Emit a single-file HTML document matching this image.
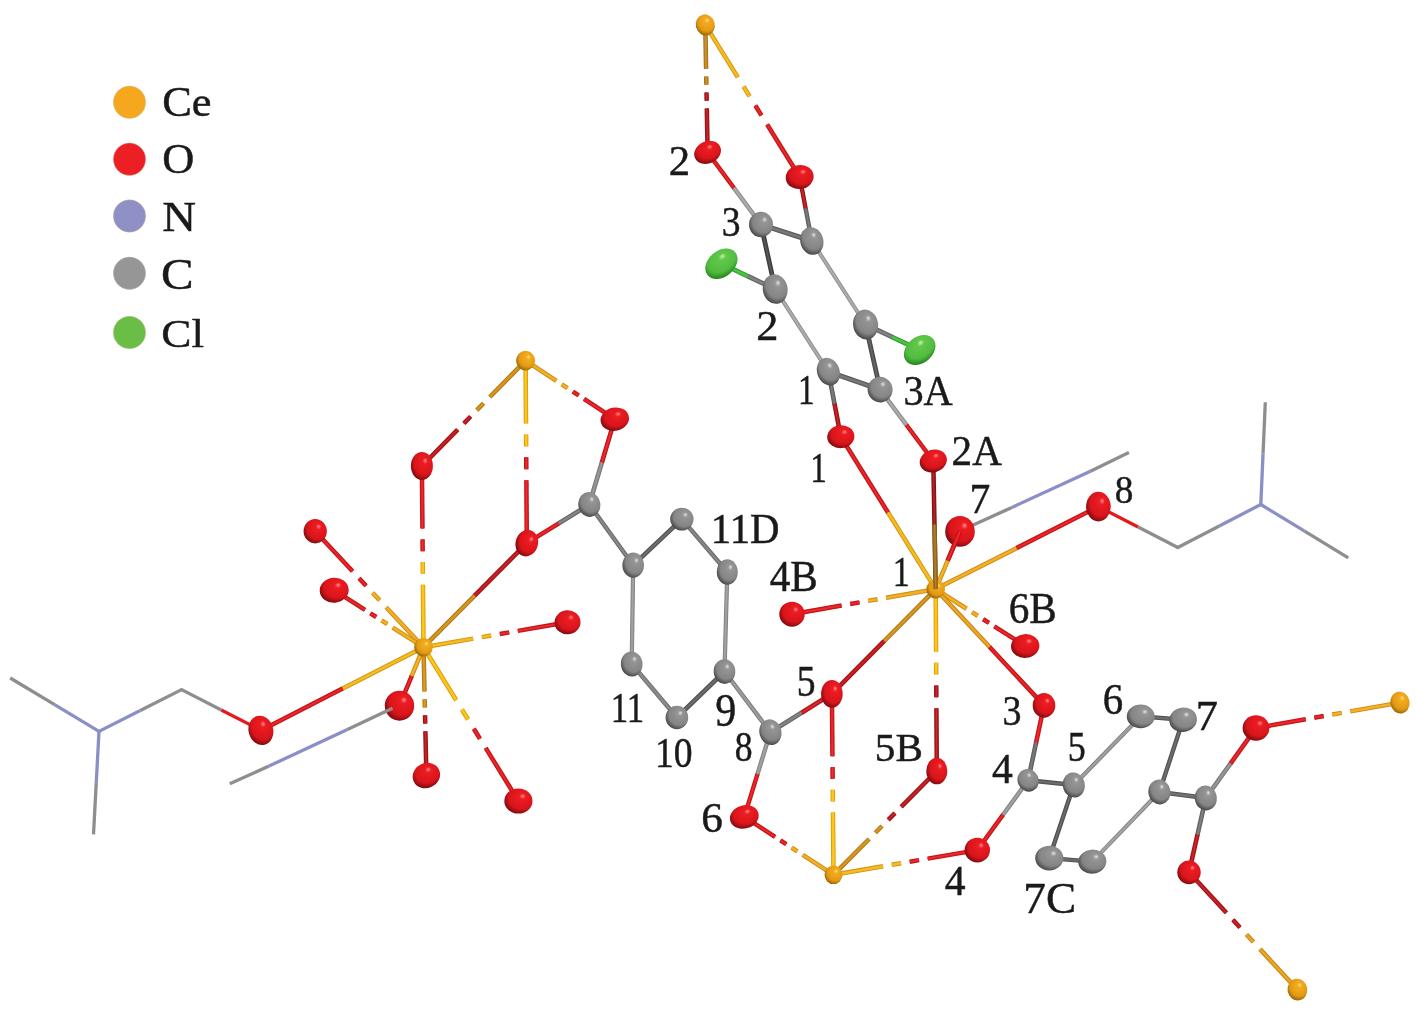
<!DOCTYPE html><html><head><meta charset="utf-8"><style>html,body{margin:0;padding:0;background:#fff;overflow:hidden}svg{display:block}text{font-family:"Liberation Serif",serif;fill:#1a1a1a}g.lb{opacity:0.999}</style></head><body>
<svg width="1417" height="1011" viewBox="0 0 1417 1011">
<defs>
<radialGradient id="gCe" cx="0.58" cy="0.40" r="0.62" fx="0.66" fy="0.30"><stop offset="0" stop-color="#FFE29A"/><stop offset="0.18" stop-color="#F4AC1E"/><stop offset="0.72" stop-color="#E29A14"/><stop offset="1" stop-color="#9A6408"/></radialGradient>
<radialGradient id="gO" cx="0.58" cy="0.40" r="0.62" fx="0.66" fy="0.30"><stop offset="0" stop-color="#FF8A8A"/><stop offset="0.18" stop-color="#EC1C22"/><stop offset="0.72" stop-color="#D8151B"/><stop offset="1" stop-color="#7E0A0E"/></radialGradient>
<radialGradient id="gC" cx="0.58" cy="0.40" r="0.62" fx="0.66" fy="0.30"><stop offset="0" stop-color="#E2E2E2"/><stop offset="0.18" stop-color="#959595"/><stop offset="0.72" stop-color="#858585"/><stop offset="1" stop-color="#474747"/></radialGradient>
<radialGradient id="gCl" cx="0.58" cy="0.40" r="0.62" fx="0.66" fy="0.30"><stop offset="0" stop-color="#C8F4A8"/><stop offset="0.18" stop-color="#62C84C"/><stop offset="0.72" stop-color="#50BC3E"/><stop offset="1" stop-color="#2A8220"/></radialGradient>
</defs>
<rect width="1417" height="1011" fill="#fff"/>
<line x1="1098.4" y1="506.6" x2="1138.1" y2="527.05" stroke="#E5191D" stroke-width="3.3"/>
<line x1="1138.1" y1="527.05" x2="1177.8" y2="547.5" stroke="#8E8E8E" stroke-width="3.3"/>
<line x1="1177.8" y1="547.5" x2="1219.3" y2="526" stroke="#8E8E8E" stroke-width="3.3"/>
<line x1="1219.3" y1="526" x2="1260.8" y2="504.5" stroke="#8A8FC8" stroke-width="3.3"/>
<line x1="1260.8" y1="504.5" x2="1263.05" y2="453.35" stroke="#8A8FC8" stroke-width="3.3"/>
<line x1="1263.05" y1="453.35" x2="1265.3" y2="402.2" stroke="#8E8E8E" stroke-width="3.3"/>
<line x1="1260.8" y1="504.5" x2="1304.55" y2="531.15" stroke="#8A8FC8" stroke-width="3.3"/>
<line x1="1304.55" y1="531.15" x2="1348.3" y2="557.8" stroke="#8E8E8E" stroke-width="3.3"/>
<line x1="960" y1="531" x2="1011.9" y2="507.4" stroke="#8E8E8E" stroke-width="3.3"/>
<line x1="1011.9" y1="507.4" x2="1090.4" y2="471.3" stroke="#8A8FC8" stroke-width="3.3"/>
<line x1="1090.4" y1="471.3" x2="1128.9" y2="452.6" stroke="#8E8E8E" stroke-width="3.3"/>
<line x1="261" y1="730.3" x2="221.3" y2="709.95" stroke="#E5191D" stroke-width="3.3"/>
<line x1="221.3" y1="709.95" x2="181.6" y2="689.6" stroke="#8E8E8E" stroke-width="3.3"/>
<line x1="181.6" y1="689.6" x2="140.3" y2="710.5" stroke="#8E8E8E" stroke-width="3.3"/>
<line x1="140.3" y1="710.5" x2="99" y2="731.4" stroke="#8A8FC8" stroke-width="3.3"/>
<line x1="99" y1="731.4" x2="54.6" y2="704.7" stroke="#8A8FC8" stroke-width="3.3"/>
<line x1="54.6" y1="704.7" x2="10.2" y2="678" stroke="#8E8E8E" stroke-width="3.3"/>
<line x1="99" y1="731.4" x2="96.25" y2="782.85" stroke="#8A8FC8" stroke-width="3.3"/>
<line x1="96.25" y1="782.85" x2="93.5" y2="834.3" stroke="#8E8E8E" stroke-width="3.3"/>
<line x1="347.4" y1="729.5" x2="268.5" y2="766.3" stroke="#8A8FC8" stroke-width="3.3"/>
<line x1="268.5" y1="766.3" x2="229.7" y2="783.8" stroke="#8E8E8E" stroke-width="3.3"/>
<circle cx="1177.8" cy="547.5" r="1.65" fill="#8E8E8E"/>
<circle cx="1260.8" cy="504.5" r="1.65" fill="#8A8FC8"/>
<circle cx="181.6" cy="689.6" r="1.65" fill="#8E8E8E"/>
<circle cx="99" cy="731.4" r="1.65" fill="#8A8FC8"/>
<line x1="705.3" y1="24.9" x2="706.09" y2="68.89" stroke="#A06E16" stroke-width="4.5"/>
<line x1="705.3" y1="24.9" x2="706.09" y2="68.89" stroke="#C4871C" stroke-width="2.79"/>
<line x1="705.3" y1="24.9" x2="706.09" y2="68.89" stroke="#CB9537" stroke-width="0.99"/>
<line x1="706.23" y1="76.54" x2="706.38" y2="84.82" stroke="#A06E16" stroke-width="4.5"/>
<line x1="706.23" y1="76.54" x2="706.38" y2="84.82" stroke="#C4871C" stroke-width="2.79"/>
<line x1="706.23" y1="76.54" x2="706.38" y2="84.82" stroke="#CB9537" stroke-width="0.99"/>
<line x1="706.52" y1="92.47" x2="706.67" y2="100.76" stroke="#961115" stroke-width="4.5"/>
<line x1="706.52" y1="92.47" x2="706.67" y2="100.76" stroke="#B8151A" stroke-width="2.79"/>
<line x1="706.52" y1="92.47" x2="706.67" y2="100.76" stroke="#C03135" stroke-width="0.99"/>
<line x1="706.81" y1="108.41" x2="707.6" y2="152.4" stroke="#961115" stroke-width="4.5"/>
<line x1="706.81" y1="108.41" x2="707.6" y2="152.4" stroke="#B8151A" stroke-width="2.79"/>
<line x1="706.81" y1="108.41" x2="707.6" y2="152.4" stroke="#C03135" stroke-width="0.99"/>
<line x1="705.3" y1="24.9" x2="737.87" y2="77.37" stroke="#C99512" stroke-width="4.5"/>
<line x1="705.3" y1="24.9" x2="737.87" y2="77.37" stroke="#F6B616" stroke-width="2.79"/>
<line x1="705.3" y1="24.9" x2="737.87" y2="77.37" stroke="#F7BE31" stroke-width="0.99"/>
<line x1="743.53" y1="86.5" x2="749.67" y2="96.39" stroke="#C99512" stroke-width="4.5"/>
<line x1="743.53" y1="86.5" x2="749.67" y2="96.39" stroke="#F6B616" stroke-width="2.79"/>
<line x1="743.53" y1="86.5" x2="749.67" y2="96.39" stroke="#F7BE31" stroke-width="0.99"/>
<line x1="755.33" y1="105.51" x2="761.47" y2="115.4" stroke="#BB1417" stroke-width="4.5"/>
<line x1="755.33" y1="105.51" x2="761.47" y2="115.4" stroke="#E5191D" stroke-width="2.79"/>
<line x1="755.33" y1="105.51" x2="761.47" y2="115.4" stroke="#E83438" stroke-width="0.99"/>
<line x1="767.13" y1="124.53" x2="799.7" y2="177" stroke="#BB1417" stroke-width="4.5"/>
<line x1="767.13" y1="124.53" x2="799.7" y2="177" stroke="#E5191D" stroke-width="2.79"/>
<line x1="767.13" y1="124.53" x2="799.7" y2="177" stroke="#E83438" stroke-width="0.99"/>
<line x1="707.6" y1="152.4" x2="734.54" y2="188.77" stroke="#BB1417" stroke-width="4.4"/>
<line x1="707.6" y1="152.4" x2="734.54" y2="188.77" stroke="#E5191D" stroke-width="2.73"/>
<line x1="707.6" y1="152.4" x2="734.54" y2="188.77" stroke="#E83438" stroke-width="0.97"/>
<line x1="734.06" y1="188.13" x2="761" y2="224.5" stroke="#878787" stroke-width="4.4"/>
<line x1="734.06" y1="188.13" x2="761" y2="224.5" stroke="#A5A5A5" stroke-width="2.73"/>
<line x1="734.06" y1="188.13" x2="761" y2="224.5" stroke="#AFAFAF" stroke-width="0.97"/>
<line x1="799.7" y1="177" x2="805.82" y2="209.39" stroke="#961115" stroke-width="4.4"/>
<line x1="799.7" y1="177" x2="805.82" y2="209.39" stroke="#B8151A" stroke-width="2.73"/>
<line x1="799.7" y1="177" x2="805.82" y2="209.39" stroke="#C03135" stroke-width="0.97"/>
<line x1="805.68" y1="208.61" x2="811.8" y2="241" stroke="#5A5A5A" stroke-width="4.4"/>
<line x1="805.68" y1="208.61" x2="811.8" y2="241" stroke="#6E6E6E" stroke-width="2.73"/>
<line x1="805.68" y1="208.61" x2="811.8" y2="241" stroke="#7F7F7F" stroke-width="0.97"/>
<line x1="761" y1="224.5" x2="811.8" y2="241" stroke="#5A5A5A" stroke-width="5"/>
<line x1="761" y1="224.5" x2="811.8" y2="241" stroke="#6E6E6E" stroke-width="3.1"/>
<line x1="761" y1="224.5" x2="811.8" y2="241" stroke="#7F7F7F" stroke-width="1.1"/>
<line x1="761" y1="224.5" x2="775.2" y2="289.1" stroke="#393B3B" stroke-width="4.8"/>
<line x1="761" y1="224.5" x2="775.2" y2="289.1" stroke="#464848" stroke-width="2.98"/>
<line x1="761" y1="224.5" x2="775.2" y2="289.1" stroke="#5C5D5D" stroke-width="1.06"/>
<line x1="721.4" y1="263.7" x2="748.66" y2="276.57" stroke="#339B2F" stroke-width="4.8"/>
<line x1="721.4" y1="263.7" x2="748.66" y2="276.57" stroke="#3FBE3A" stroke-width="2.98"/>
<line x1="721.4" y1="263.7" x2="748.66" y2="276.57" stroke="#56C551" stroke-width="1.06"/>
<line x1="747.94" y1="276.23" x2="775.2" y2="289.1" stroke="#646464" stroke-width="4.8"/>
<line x1="747.94" y1="276.23" x2="775.2" y2="289.1" stroke="#7A7A7A" stroke-width="2.98"/>
<line x1="747.94" y1="276.23" x2="775.2" y2="289.1" stroke="#898989" stroke-width="1.06"/>
<line x1="811.8" y1="241" x2="865.6" y2="324.5" stroke="#898989" stroke-width="4"/>
<line x1="811.8" y1="241" x2="865.6" y2="324.5" stroke="#A8A8A8" stroke-width="2.48"/>
<line x1="811.8" y1="241" x2="865.6" y2="324.5" stroke="#B2B2B2" stroke-width="0.88"/>
<line x1="775.2" y1="289.1" x2="828.4" y2="371.7" stroke="#898989" stroke-width="4"/>
<line x1="775.2" y1="289.1" x2="828.4" y2="371.7" stroke="#A8A8A8" stroke-width="2.48"/>
<line x1="775.2" y1="289.1" x2="828.4" y2="371.7" stroke="#B2B2B2" stroke-width="0.88"/>
<line x1="865.6" y1="324.5" x2="893.01" y2="337.42" stroke="#646464" stroke-width="4.8"/>
<line x1="865.6" y1="324.5" x2="893.01" y2="337.42" stroke="#7A7A7A" stroke-width="2.98"/>
<line x1="865.6" y1="324.5" x2="893.01" y2="337.42" stroke="#898989" stroke-width="1.06"/>
<line x1="892.29" y1="337.08" x2="919.7" y2="350" stroke="#339B2F" stroke-width="4.8"/>
<line x1="892.29" y1="337.08" x2="919.7" y2="350" stroke="#3FBE3A" stroke-width="2.98"/>
<line x1="892.29" y1="337.08" x2="919.7" y2="350" stroke="#56C551" stroke-width="1.06"/>
<line x1="865.6" y1="324.5" x2="880.1" y2="389.6" stroke="#454747" stroke-width="4.8"/>
<line x1="865.6" y1="324.5" x2="880.1" y2="389.6" stroke="#555757" stroke-width="2.98"/>
<line x1="865.6" y1="324.5" x2="880.1" y2="389.6" stroke="#696B6B" stroke-width="1.06"/>
<line x1="828.4" y1="371.7" x2="880.1" y2="389.6" stroke="#5A5A5A" stroke-width="5"/>
<line x1="828.4" y1="371.7" x2="880.1" y2="389.6" stroke="#6E6E6E" stroke-width="3.1"/>
<line x1="828.4" y1="371.7" x2="880.1" y2="389.6" stroke="#7F7F7F" stroke-width="1.1"/>
<line x1="828.4" y1="371.7" x2="834.67" y2="404.59" stroke="#5A5A5A" stroke-width="4.6"/>
<line x1="828.4" y1="371.7" x2="834.67" y2="404.59" stroke="#6E6E6E" stroke-width="2.85"/>
<line x1="828.4" y1="371.7" x2="834.67" y2="404.59" stroke="#7F7F7F" stroke-width="1.01"/>
<line x1="834.53" y1="403.81" x2="840.8" y2="436.7" stroke="#961115" stroke-width="4.6"/>
<line x1="834.53" y1="403.81" x2="840.8" y2="436.7" stroke="#B8151A" stroke-width="2.85"/>
<line x1="834.53" y1="403.81" x2="840.8" y2="436.7" stroke="#C03135" stroke-width="1.01"/>
<line x1="880.1" y1="389.6" x2="906.94" y2="425.62" stroke="#878787" stroke-width="4.4"/>
<line x1="880.1" y1="389.6" x2="906.94" y2="425.62" stroke="#A5A5A5" stroke-width="2.73"/>
<line x1="880.1" y1="389.6" x2="906.94" y2="425.62" stroke="#AFAFAF" stroke-width="0.97"/>
<line x1="906.46" y1="424.98" x2="933.3" y2="461" stroke="#BB1417" stroke-width="4.4"/>
<line x1="906.46" y1="424.98" x2="933.3" y2="461" stroke="#E5191D" stroke-width="2.73"/>
<line x1="906.46" y1="424.98" x2="933.3" y2="461" stroke="#E83438" stroke-width="0.97"/>
<line x1="840.8" y1="436.7" x2="888.46" y2="513.24" stroke="#BB1417" stroke-width="4.5"/>
<line x1="840.8" y1="436.7" x2="888.46" y2="513.24" stroke="#E5191D" stroke-width="2.79"/>
<line x1="840.8" y1="436.7" x2="888.46" y2="513.24" stroke="#E83438" stroke-width="0.99"/>
<line x1="888.04" y1="512.56" x2="935.7" y2="589.1" stroke="#C99512" stroke-width="4.5"/>
<line x1="888.04" y1="512.56" x2="935.7" y2="589.1" stroke="#F6B616" stroke-width="2.79"/>
<line x1="888.04" y1="512.56" x2="935.7" y2="589.1" stroke="#F7BE31" stroke-width="0.99"/>
<line x1="933.3" y1="461" x2="934.51" y2="525.45" stroke="#831013" stroke-width="4.5"/>
<line x1="933.3" y1="461" x2="934.51" y2="525.45" stroke="#A01418" stroke-width="2.79"/>
<line x1="933.3" y1="461" x2="934.51" y2="525.45" stroke="#AB3033" stroke-width="0.99"/>
<line x1="934.49" y1="524.65" x2="935.7" y2="589.1" stroke="#845B18" stroke-width="4.5"/>
<line x1="934.49" y1="524.65" x2="935.7" y2="589.1" stroke="#A2701E" stroke-width="2.79"/>
<line x1="934.49" y1="524.65" x2="935.7" y2="589.1" stroke="#AD8139" stroke-width="0.99"/>
<line x1="935.7" y1="589.1" x2="948.01" y2="559.88" stroke="#C68B15" stroke-width="4.5"/>
<line x1="935.7" y1="589.1" x2="948.01" y2="559.88" stroke="#F2AA1A" stroke-width="2.79"/>
<line x1="935.7" y1="589.1" x2="948.01" y2="559.88" stroke="#F3B435" stroke-width="0.99"/>
<line x1="947.69" y1="560.62" x2="960" y2="531.4" stroke="#BB1417" stroke-width="4.5"/>
<line x1="947.69" y1="560.62" x2="960" y2="531.4" stroke="#E5191D" stroke-width="2.79"/>
<line x1="947.69" y1="560.62" x2="960" y2="531.4" stroke="#E83438" stroke-width="0.99"/>
<line x1="935.7" y1="589.1" x2="1017.41" y2="547.67" stroke="#C68B15" stroke-width="4.5"/>
<line x1="935.7" y1="589.1" x2="1017.41" y2="547.67" stroke="#F2AA1A" stroke-width="2.79"/>
<line x1="935.7" y1="589.1" x2="1017.41" y2="547.67" stroke="#F3B435" stroke-width="0.99"/>
<line x1="1016.69" y1="548.03" x2="1098.4" y2="506.6" stroke="#BB1417" stroke-width="4.5"/>
<line x1="1016.69" y1="548.03" x2="1098.4" y2="506.6" stroke="#E5191D" stroke-width="2.79"/>
<line x1="1016.69" y1="548.03" x2="1098.4" y2="506.6" stroke="#E83438" stroke-width="0.99"/>
<line x1="935.7" y1="589.1" x2="886.12" y2="597.76" stroke="#C68B15" stroke-width="4.5"/>
<line x1="935.7" y1="589.1" x2="886.12" y2="597.76" stroke="#F2AA1A" stroke-width="2.79"/>
<line x1="935.7" y1="589.1" x2="886.12" y2="597.76" stroke="#F3B435" stroke-width="0.99"/>
<line x1="877.5" y1="599.27" x2="868.16" y2="600.9" stroke="#C68B15" stroke-width="4.5"/>
<line x1="877.5" y1="599.27" x2="868.16" y2="600.9" stroke="#F2AA1A" stroke-width="2.79"/>
<line x1="877.5" y1="599.27" x2="868.16" y2="600.9" stroke="#F3B435" stroke-width="0.99"/>
<line x1="859.54" y1="602.4" x2="850.2" y2="604.03" stroke="#BB1417" stroke-width="4.5"/>
<line x1="859.54" y1="602.4" x2="850.2" y2="604.03" stroke="#E5191D" stroke-width="2.79"/>
<line x1="859.54" y1="602.4" x2="850.2" y2="604.03" stroke="#E83438" stroke-width="0.99"/>
<line x1="841.58" y1="605.54" x2="792" y2="614.2" stroke="#BB1417" stroke-width="4.5"/>
<line x1="841.58" y1="605.54" x2="792" y2="614.2" stroke="#E5191D" stroke-width="2.79"/>
<line x1="841.58" y1="605.54" x2="792" y2="614.2" stroke="#E83438" stroke-width="0.99"/>
<line x1="935.7" y1="589.1" x2="966.58" y2="608.73" stroke="#C68B15" stroke-width="4.5"/>
<line x1="935.7" y1="589.1" x2="966.58" y2="608.73" stroke="#F2AA1A" stroke-width="2.79"/>
<line x1="935.7" y1="589.1" x2="966.58" y2="608.73" stroke="#F3B435" stroke-width="0.99"/>
<line x1="971.95" y1="612.14" x2="977.77" y2="615.84" stroke="#C68B15" stroke-width="4.5"/>
<line x1="971.95" y1="612.14" x2="977.77" y2="615.84" stroke="#F2AA1A" stroke-width="2.79"/>
<line x1="971.95" y1="612.14" x2="977.77" y2="615.84" stroke="#F3B435" stroke-width="0.99"/>
<line x1="983.13" y1="619.26" x2="988.95" y2="622.96" stroke="#BB1417" stroke-width="4.5"/>
<line x1="983.13" y1="619.26" x2="988.95" y2="622.96" stroke="#E5191D" stroke-width="2.79"/>
<line x1="983.13" y1="619.26" x2="988.95" y2="622.96" stroke="#E83438" stroke-width="0.99"/>
<line x1="994.32" y1="626.37" x2="1025.2" y2="646" stroke="#BB1417" stroke-width="4.5"/>
<line x1="994.32" y1="626.37" x2="1025.2" y2="646" stroke="#E5191D" stroke-width="2.79"/>
<line x1="994.32" y1="626.37" x2="1025.2" y2="646" stroke="#E83438" stroke-width="0.99"/>
<line x1="935.7" y1="589.1" x2="990.12" y2="647.54" stroke="#BE8415" stroke-width="4.5"/>
<line x1="935.7" y1="589.1" x2="990.12" y2="647.54" stroke="#E8A21A" stroke-width="2.79"/>
<line x1="935.7" y1="589.1" x2="990.12" y2="647.54" stroke="#EAAD35" stroke-width="0.99"/>
<line x1="989.58" y1="646.96" x2="1044" y2="705.4" stroke="#BB1417" stroke-width="4.5"/>
<line x1="989.58" y1="646.96" x2="1044" y2="705.4" stroke="#E5191D" stroke-width="2.79"/>
<line x1="989.58" y1="646.96" x2="1044" y2="705.4" stroke="#E83438" stroke-width="0.99"/>
<line x1="935.7" y1="589.1" x2="936.08" y2="651.86" stroke="#D19D0B" stroke-width="4.5"/>
<line x1="935.7" y1="589.1" x2="936.08" y2="651.86" stroke="#FFC00E" stroke-width="2.79"/>
<line x1="935.7" y1="589.1" x2="936.08" y2="651.86" stroke="#FFC72A" stroke-width="0.99"/>
<line x1="936.15" y1="662.77" x2="936.22" y2="674.59" stroke="#D19D0B" stroke-width="4.5"/>
<line x1="936.15" y1="662.77" x2="936.22" y2="674.59" stroke="#FFC00E" stroke-width="2.79"/>
<line x1="936.15" y1="662.77" x2="936.22" y2="674.59" stroke="#FFC72A" stroke-width="0.99"/>
<line x1="936.28" y1="685.51" x2="936.35" y2="697.33" stroke="#961115" stroke-width="4.5"/>
<line x1="936.28" y1="685.51" x2="936.35" y2="697.33" stroke="#B8151A" stroke-width="2.79"/>
<line x1="936.28" y1="685.51" x2="936.35" y2="697.33" stroke="#C03135" stroke-width="0.99"/>
<line x1="936.42" y1="708.24" x2="936.8" y2="771" stroke="#961115" stroke-width="4.5"/>
<line x1="936.42" y1="708.24" x2="936.8" y2="771" stroke="#B8151A" stroke-width="2.79"/>
<line x1="936.42" y1="708.24" x2="936.8" y2="771" stroke="#C03135" stroke-width="0.99"/>
<line x1="935.7" y1="589.1" x2="883.52" y2="641.73" stroke="#AD7613" stroke-width="4.5"/>
<line x1="935.7" y1="589.1" x2="883.52" y2="641.73" stroke="#D39018" stroke-width="2.79"/>
<line x1="935.7" y1="589.1" x2="883.52" y2="641.73" stroke="#D89D33" stroke-width="0.99"/>
<line x1="884.08" y1="641.17" x2="831.9" y2="693.8" stroke="#9D1215" stroke-width="4.5"/>
<line x1="884.08" y1="641.17" x2="831.9" y2="693.8" stroke="#C0161A" stroke-width="2.79"/>
<line x1="884.08" y1="641.17" x2="831.9" y2="693.8" stroke="#C73135" stroke-width="0.99"/>
<line x1="833.5" y1="874.8" x2="832.95" y2="812.36" stroke="#D19D0B" stroke-width="4.5"/>
<line x1="833.5" y1="874.8" x2="832.95" y2="812.36" stroke="#FFC00E" stroke-width="2.79"/>
<line x1="833.5" y1="874.8" x2="832.95" y2="812.36" stroke="#FFC72A" stroke-width="0.99"/>
<line x1="832.85" y1="801.49" x2="832.75" y2="789.73" stroke="#D19D0B" stroke-width="4.5"/>
<line x1="832.85" y1="801.49" x2="832.75" y2="789.73" stroke="#FFC00E" stroke-width="2.79"/>
<line x1="832.85" y1="801.49" x2="832.75" y2="789.73" stroke="#FFC72A" stroke-width="0.99"/>
<line x1="832.65" y1="778.87" x2="832.55" y2="767.11" stroke="#BB1417" stroke-width="4.5"/>
<line x1="832.65" y1="778.87" x2="832.55" y2="767.11" stroke="#E5191D" stroke-width="2.79"/>
<line x1="832.65" y1="778.87" x2="832.55" y2="767.11" stroke="#E83438" stroke-width="0.99"/>
<line x1="832.45" y1="756.24" x2="831.9" y2="693.8" stroke="#BB1417" stroke-width="4.5"/>
<line x1="832.45" y1="756.24" x2="831.9" y2="693.8" stroke="#E5191D" stroke-width="2.79"/>
<line x1="832.45" y1="756.24" x2="831.9" y2="693.8" stroke="#E83438" stroke-width="0.99"/>
<line x1="833.5" y1="874.8" x2="802.73" y2="854.82" stroke="#C68B15" stroke-width="4.5"/>
<line x1="833.5" y1="874.8" x2="802.73" y2="854.82" stroke="#F2AA1A" stroke-width="2.79"/>
<line x1="833.5" y1="874.8" x2="802.73" y2="854.82" stroke="#F3B435" stroke-width="0.99"/>
<line x1="797.37" y1="851.35" x2="791.58" y2="847.59" stroke="#C68B15" stroke-width="4.5"/>
<line x1="797.37" y1="851.35" x2="791.58" y2="847.59" stroke="#F2AA1A" stroke-width="2.79"/>
<line x1="797.37" y1="851.35" x2="791.58" y2="847.59" stroke="#F3B435" stroke-width="0.99"/>
<line x1="786.22" y1="844.11" x2="780.43" y2="840.35" stroke="#BB1417" stroke-width="4.5"/>
<line x1="786.22" y1="844.11" x2="780.43" y2="840.35" stroke="#E5191D" stroke-width="2.79"/>
<line x1="786.22" y1="844.11" x2="780.43" y2="840.35" stroke="#E83438" stroke-width="0.99"/>
<line x1="775.07" y1="836.88" x2="744.3" y2="816.9" stroke="#BB1417" stroke-width="4.5"/>
<line x1="775.07" y1="836.88" x2="744.3" y2="816.9" stroke="#E5191D" stroke-width="2.79"/>
<line x1="775.07" y1="836.88" x2="744.3" y2="816.9" stroke="#E83438" stroke-width="0.99"/>
<line x1="833.5" y1="874.8" x2="869.14" y2="838.99" stroke="#AD7613" stroke-width="4.5"/>
<line x1="833.5" y1="874.8" x2="869.14" y2="838.99" stroke="#D39018" stroke-width="2.79"/>
<line x1="833.5" y1="874.8" x2="869.14" y2="838.99" stroke="#D89D33" stroke-width="0.99"/>
<line x1="875.34" y1="832.76" x2="882.05" y2="826.01" stroke="#AD7613" stroke-width="4.5"/>
<line x1="875.34" y1="832.76" x2="882.05" y2="826.01" stroke="#D39018" stroke-width="2.79"/>
<line x1="875.34" y1="832.76" x2="882.05" y2="826.01" stroke="#D89D33" stroke-width="0.99"/>
<line x1="888.25" y1="819.79" x2="894.96" y2="813.04" stroke="#9D1215" stroke-width="4.5"/>
<line x1="888.25" y1="819.79" x2="894.96" y2="813.04" stroke="#C0161A" stroke-width="2.79"/>
<line x1="888.25" y1="819.79" x2="894.96" y2="813.04" stroke="#C73135" stroke-width="0.99"/>
<line x1="901.16" y1="806.81" x2="936.8" y2="771" stroke="#9D1215" stroke-width="4.5"/>
<line x1="901.16" y1="806.81" x2="936.8" y2="771" stroke="#C0161A" stroke-width="2.79"/>
<line x1="901.16" y1="806.81" x2="936.8" y2="771" stroke="#C73135" stroke-width="0.99"/>
<line x1="833.5" y1="874.8" x2="883.11" y2="866.28" stroke="#C99512" stroke-width="4.5"/>
<line x1="833.5" y1="874.8" x2="883.11" y2="866.28" stroke="#F6B616" stroke-width="2.79"/>
<line x1="833.5" y1="874.8" x2="883.11" y2="866.28" stroke="#F7BE31" stroke-width="0.99"/>
<line x1="891.74" y1="864.8" x2="901.09" y2="863.19" stroke="#C99512" stroke-width="4.5"/>
<line x1="891.74" y1="864.8" x2="901.09" y2="863.19" stroke="#F6B616" stroke-width="2.79"/>
<line x1="891.74" y1="864.8" x2="901.09" y2="863.19" stroke="#F7BE31" stroke-width="0.99"/>
<line x1="909.71" y1="861.71" x2="919.06" y2="860.1" stroke="#BB1417" stroke-width="4.5"/>
<line x1="909.71" y1="861.71" x2="919.06" y2="860.1" stroke="#E5191D" stroke-width="2.79"/>
<line x1="909.71" y1="861.71" x2="919.06" y2="860.1" stroke="#E83438" stroke-width="0.99"/>
<line x1="927.69" y1="858.62" x2="977.3" y2="850.1" stroke="#BB1417" stroke-width="4.5"/>
<line x1="927.69" y1="858.62" x2="977.3" y2="850.1" stroke="#E5191D" stroke-width="2.79"/>
<line x1="927.69" y1="858.62" x2="977.3" y2="850.1" stroke="#E83438" stroke-width="0.99"/>
<line x1="831.9" y1="693.8" x2="800.81" y2="713.21" stroke="#AA1216" stroke-width="4.6"/>
<line x1="831.9" y1="693.8" x2="800.81" y2="713.21" stroke="#D0171C" stroke-width="2.85"/>
<line x1="831.9" y1="693.8" x2="800.81" y2="713.21" stroke="#D53237" stroke-width="1.01"/>
<line x1="801.49" y1="712.79" x2="770.4" y2="732.2" stroke="#646464" stroke-width="4.6"/>
<line x1="801.49" y1="712.79" x2="770.4" y2="732.2" stroke="#7A7A7A" stroke-width="2.85"/>
<line x1="801.49" y1="712.79" x2="770.4" y2="732.2" stroke="#898989" stroke-width="1.01"/>
<line x1="770.4" y1="732.2" x2="757.23" y2="774.93" stroke="#7E7E7E" stroke-width="4.4"/>
<line x1="770.4" y1="732.2" x2="757.23" y2="774.93" stroke="#9A9A9A" stroke-width="2.73"/>
<line x1="770.4" y1="732.2" x2="757.23" y2="774.93" stroke="#A6A6A6" stroke-width="0.97"/>
<line x1="757.47" y1="774.17" x2="744.3" y2="816.9" stroke="#BB1417" stroke-width="4.4"/>
<line x1="757.47" y1="774.17" x2="744.3" y2="816.9" stroke="#E5191D" stroke-width="2.73"/>
<line x1="757.47" y1="774.17" x2="744.3" y2="816.9" stroke="#E83438" stroke-width="0.97"/>
<line x1="770.4" y1="732.2" x2="724.5" y2="671.5" stroke="#7A7A7A" stroke-width="4.4"/>
<line x1="770.4" y1="732.2" x2="724.5" y2="671.5" stroke="#969696" stroke-width="2.73"/>
<line x1="770.4" y1="732.2" x2="724.5" y2="671.5" stroke="#A2A2A2" stroke-width="0.97"/>
<line x1="724.5" y1="671.5" x2="676.9" y2="717.5" stroke="#505050" stroke-width="4.6"/>
<line x1="724.5" y1="671.5" x2="676.9" y2="717.5" stroke="#626262" stroke-width="2.85"/>
<line x1="724.5" y1="671.5" x2="676.9" y2="717.5" stroke="#747474" stroke-width="1.01"/>
<line x1="676.9" y1="717.5" x2="631.7" y2="664" stroke="#6D6D6D" stroke-width="4.4"/>
<line x1="676.9" y1="717.5" x2="631.7" y2="664" stroke="#858585" stroke-width="2.73"/>
<line x1="676.9" y1="717.5" x2="631.7" y2="664" stroke="#939393" stroke-width="0.97"/>
<line x1="631.7" y1="664" x2="633.2" y2="565.2" stroke="#7E7E7E" stroke-width="4.2"/>
<line x1="631.7" y1="664" x2="633.2" y2="565.2" stroke="#9A9A9A" stroke-width="2.6"/>
<line x1="631.7" y1="664" x2="633.2" y2="565.2" stroke="#A6A6A6" stroke-width="0.92"/>
<line x1="724.5" y1="671.5" x2="727.3" y2="572" stroke="#7E7E7E" stroke-width="4.2"/>
<line x1="724.5" y1="671.5" x2="727.3" y2="572" stroke="#9A9A9A" stroke-width="2.6"/>
<line x1="724.5" y1="671.5" x2="727.3" y2="572" stroke="#A6A6A6" stroke-width="0.92"/>
<line x1="727.3" y1="572" x2="681.9" y2="519.1" stroke="#676767" stroke-width="4.4"/>
<line x1="727.3" y1="572" x2="681.9" y2="519.1" stroke="#7E7E7E" stroke-width="2.73"/>
<line x1="727.3" y1="572" x2="681.9" y2="519.1" stroke="#8D8D8D" stroke-width="0.97"/>
<line x1="681.9" y1="519.1" x2="633.2" y2="565.2" stroke="#505050" stroke-width="4.6"/>
<line x1="681.9" y1="519.1" x2="633.2" y2="565.2" stroke="#626262" stroke-width="2.85"/>
<line x1="681.9" y1="519.1" x2="633.2" y2="565.2" stroke="#747474" stroke-width="1.01"/>
<line x1="633.2" y1="565.2" x2="589.3" y2="504.5" stroke="#686868" stroke-width="4.4"/>
<line x1="633.2" y1="565.2" x2="589.3" y2="504.5" stroke="#808080" stroke-width="2.73"/>
<line x1="633.2" y1="565.2" x2="589.3" y2="504.5" stroke="#8F8F8F" stroke-width="0.97"/>
<line x1="589.3" y1="504.5" x2="557.71" y2="524.01" stroke="#646464" stroke-width="4.6"/>
<line x1="589.3" y1="504.5" x2="557.71" y2="524.01" stroke="#7A7A7A" stroke-width="2.85"/>
<line x1="589.3" y1="504.5" x2="557.71" y2="524.01" stroke="#898989" stroke-width="1.01"/>
<line x1="558.39" y1="523.59" x2="526.8" y2="543.1" stroke="#BB1417" stroke-width="4.6"/>
<line x1="558.39" y1="523.59" x2="526.8" y2="543.1" stroke="#E5191D" stroke-width="2.85"/>
<line x1="558.39" y1="523.59" x2="526.8" y2="543.1" stroke="#E83438" stroke-width="1.01"/>
<line x1="589.3" y1="504.5" x2="602.16" y2="461.47" stroke="#747474" stroke-width="4.6"/>
<line x1="589.3" y1="504.5" x2="602.16" y2="461.47" stroke="#8E8E8E" stroke-width="2.85"/>
<line x1="589.3" y1="504.5" x2="602.16" y2="461.47" stroke="#9B9B9B" stroke-width="1.01"/>
<line x1="601.94" y1="462.23" x2="614.8" y2="419.2" stroke="#BB1417" stroke-width="4.6"/>
<line x1="601.94" y1="462.23" x2="614.8" y2="419.2" stroke="#E5191D" stroke-width="2.85"/>
<line x1="601.94" y1="462.23" x2="614.8" y2="419.2" stroke="#E83438" stroke-width="1.01"/>
<line x1="1044" y1="705.4" x2="1035.97" y2="743.24" stroke="#BB1417" stroke-width="4.6"/>
<line x1="1044" y1="705.4" x2="1035.97" y2="743.24" stroke="#E5191D" stroke-width="2.85"/>
<line x1="1044" y1="705.4" x2="1035.97" y2="743.24" stroke="#E83438" stroke-width="1.01"/>
<line x1="1036.13" y1="742.46" x2="1028.1" y2="780.3" stroke="#5A5A5A" stroke-width="4.6"/>
<line x1="1036.13" y1="742.46" x2="1028.1" y2="780.3" stroke="#6E6E6E" stroke-width="2.85"/>
<line x1="1036.13" y1="742.46" x2="1028.1" y2="780.3" stroke="#7F7F7F" stroke-width="1.01"/>
<line x1="1028.1" y1="780.3" x2="1002.46" y2="815.52" stroke="#7E7E7E" stroke-width="4.4"/>
<line x1="1028.1" y1="780.3" x2="1002.46" y2="815.52" stroke="#9A9A9A" stroke-width="2.73"/>
<line x1="1028.1" y1="780.3" x2="1002.46" y2="815.52" stroke="#A6A6A6" stroke-width="0.97"/>
<line x1="1002.94" y1="814.88" x2="977.3" y2="850.1" stroke="#BB1417" stroke-width="4.4"/>
<line x1="1002.94" y1="814.88" x2="977.3" y2="850.1" stroke="#E5191D" stroke-width="2.73"/>
<line x1="1002.94" y1="814.88" x2="977.3" y2="850.1" stroke="#E83438" stroke-width="0.97"/>
<line x1="1028.1" y1="780.3" x2="1073.8" y2="785" stroke="#505050" stroke-width="4.4"/>
<line x1="1028.1" y1="780.3" x2="1073.8" y2="785" stroke="#626262" stroke-width="2.73"/>
<line x1="1028.1" y1="780.3" x2="1073.8" y2="785" stroke="#747474" stroke-width="0.97"/>
<line x1="1073.8" y1="785" x2="1140.7" y2="716.4" stroke="#7E7E7E" stroke-width="4.2"/>
<line x1="1073.8" y1="785" x2="1140.7" y2="716.4" stroke="#9A9A9A" stroke-width="2.6"/>
<line x1="1073.8" y1="785" x2="1140.7" y2="716.4" stroke="#A6A6A6" stroke-width="0.92"/>
<line x1="1140.7" y1="716.4" x2="1183.1" y2="719.8" stroke="#505050" stroke-width="4.4"/>
<line x1="1140.7" y1="716.4" x2="1183.1" y2="719.8" stroke="#626262" stroke-width="2.73"/>
<line x1="1140.7" y1="716.4" x2="1183.1" y2="719.8" stroke="#747474" stroke-width="0.97"/>
<line x1="1183.1" y1="719.8" x2="1159.4" y2="792" stroke="#505050" stroke-width="4.4"/>
<line x1="1183.1" y1="719.8" x2="1159.4" y2="792" stroke="#626262" stroke-width="2.73"/>
<line x1="1183.1" y1="719.8" x2="1159.4" y2="792" stroke="#747474" stroke-width="0.97"/>
<line x1="1159.4" y1="792" x2="1092.3" y2="861.6" stroke="#838383" stroke-width="4"/>
<line x1="1159.4" y1="792" x2="1092.3" y2="861.6" stroke="#A0A0A0" stroke-width="2.48"/>
<line x1="1159.4" y1="792" x2="1092.3" y2="861.6" stroke="#ABABAB" stroke-width="0.88"/>
<line x1="1092.3" y1="861.6" x2="1049.3" y2="858.1" stroke="#505050" stroke-width="4.4"/>
<line x1="1092.3" y1="861.6" x2="1049.3" y2="858.1" stroke="#626262" stroke-width="2.73"/>
<line x1="1092.3" y1="861.6" x2="1049.3" y2="858.1" stroke="#747474" stroke-width="0.97"/>
<line x1="1049.3" y1="858.1" x2="1073.8" y2="785" stroke="#4D4D4D" stroke-width="4.4"/>
<line x1="1049.3" y1="858.1" x2="1073.8" y2="785" stroke="#5E5E5E" stroke-width="2.73"/>
<line x1="1049.3" y1="858.1" x2="1073.8" y2="785" stroke="#717171" stroke-width="0.97"/>
<line x1="1159.4" y1="792" x2="1205.8" y2="798" stroke="#565656" stroke-width="4.4"/>
<line x1="1159.4" y1="792" x2="1205.8" y2="798" stroke="#6A6A6A" stroke-width="2.73"/>
<line x1="1159.4" y1="792" x2="1205.8" y2="798" stroke="#7B7B7B" stroke-width="0.97"/>
<line x1="1205.8" y1="798" x2="1231.13" y2="762.67" stroke="#747474" stroke-width="4.6"/>
<line x1="1205.8" y1="798" x2="1231.13" y2="762.67" stroke="#8E8E8E" stroke-width="2.85"/>
<line x1="1205.8" y1="798" x2="1231.13" y2="762.67" stroke="#9B9B9B" stroke-width="1.01"/>
<line x1="1230.67" y1="763.33" x2="1256" y2="728" stroke="#BB1417" stroke-width="4.6"/>
<line x1="1230.67" y1="763.33" x2="1256" y2="728" stroke="#E5191D" stroke-width="2.85"/>
<line x1="1230.67" y1="763.33" x2="1256" y2="728" stroke="#E83438" stroke-width="1.01"/>
<line x1="1205.8" y1="798" x2="1197.31" y2="835.54" stroke="#5F5F5F" stroke-width="4.6"/>
<line x1="1205.8" y1="798" x2="1197.31" y2="835.54" stroke="#747474" stroke-width="2.85"/>
<line x1="1205.8" y1="798" x2="1197.31" y2="835.54" stroke="#848484" stroke-width="1.01"/>
<line x1="1197.49" y1="834.76" x2="1189" y2="872.3" stroke="#9D1215" stroke-width="4.6"/>
<line x1="1197.49" y1="834.76" x2="1189" y2="872.3" stroke="#C0161A" stroke-width="2.85"/>
<line x1="1197.49" y1="834.76" x2="1189" y2="872.3" stroke="#C73135" stroke-width="1.01"/>
<line x1="1256" y1="728" x2="1305.68" y2="719.24" stroke="#BB1417" stroke-width="4.5"/>
<line x1="1256" y1="728" x2="1305.68" y2="719.24" stroke="#E5191D" stroke-width="2.79"/>
<line x1="1256" y1="728" x2="1305.68" y2="719.24" stroke="#E83438" stroke-width="0.99"/>
<line x1="1314.32" y1="717.71" x2="1323.68" y2="716.06" stroke="#BB1417" stroke-width="4.5"/>
<line x1="1314.32" y1="717.71" x2="1323.68" y2="716.06" stroke="#E5191D" stroke-width="2.79"/>
<line x1="1314.32" y1="717.71" x2="1323.68" y2="716.06" stroke="#E83438" stroke-width="0.99"/>
<line x1="1332.32" y1="714.54" x2="1341.68" y2="712.89" stroke="#C68B15" stroke-width="4.5"/>
<line x1="1332.32" y1="714.54" x2="1341.68" y2="712.89" stroke="#F2AA1A" stroke-width="2.79"/>
<line x1="1332.32" y1="714.54" x2="1341.68" y2="712.89" stroke="#F3B435" stroke-width="0.99"/>
<line x1="1350.32" y1="711.36" x2="1400" y2="702.6" stroke="#C68B15" stroke-width="4.5"/>
<line x1="1350.32" y1="711.36" x2="1400" y2="702.6" stroke="#F2AA1A" stroke-width="2.79"/>
<line x1="1350.32" y1="711.36" x2="1400" y2="702.6" stroke="#F3B435" stroke-width="0.99"/>
<line x1="1189" y1="872.3" x2="1226.4" y2="912.77" stroke="#9D1215" stroke-width="4.5"/>
<line x1="1189" y1="872.3" x2="1226.4" y2="912.77" stroke="#C0161A" stroke-width="2.79"/>
<line x1="1189" y1="872.3" x2="1226.4" y2="912.77" stroke="#C73135" stroke-width="0.99"/>
<line x1="1232.9" y1="919.81" x2="1239.95" y2="927.43" stroke="#9D1215" stroke-width="4.5"/>
<line x1="1232.9" y1="919.81" x2="1239.95" y2="927.43" stroke="#C0161A" stroke-width="2.79"/>
<line x1="1232.9" y1="919.81" x2="1239.95" y2="927.43" stroke="#C73135" stroke-width="0.99"/>
<line x1="1246.45" y1="934.47" x2="1253.5" y2="942.09" stroke="#BE8415" stroke-width="4.5"/>
<line x1="1246.45" y1="934.47" x2="1253.5" y2="942.09" stroke="#E8A21A" stroke-width="2.79"/>
<line x1="1246.45" y1="934.47" x2="1253.5" y2="942.09" stroke="#EAAD35" stroke-width="0.99"/>
<line x1="1260" y1="949.13" x2="1297.4" y2="989.6" stroke="#BE8415" stroke-width="4.5"/>
<line x1="1260" y1="949.13" x2="1297.4" y2="989.6" stroke="#E8A21A" stroke-width="2.79"/>
<line x1="1260" y1="949.13" x2="1297.4" y2="989.6" stroke="#EAAD35" stroke-width="0.99"/>
<line x1="423.5" y1="647.2" x2="475.43" y2="594.87" stroke="#AD7613" stroke-width="4.5"/>
<line x1="423.5" y1="647.2" x2="475.43" y2="594.87" stroke="#D39018" stroke-width="2.79"/>
<line x1="423.5" y1="647.2" x2="475.43" y2="594.87" stroke="#D89D33" stroke-width="0.99"/>
<line x1="474.87" y1="595.43" x2="526.8" y2="543.1" stroke="#9D1215" stroke-width="4.5"/>
<line x1="474.87" y1="595.43" x2="526.8" y2="543.1" stroke="#C0161A" stroke-width="2.79"/>
<line x1="474.87" y1="595.43" x2="526.8" y2="543.1" stroke="#C73135" stroke-width="0.99"/>
<line x1="423.5" y1="647.2" x2="386.14" y2="607.18" stroke="#C68B15" stroke-width="4.5"/>
<line x1="423.5" y1="647.2" x2="386.14" y2="607.18" stroke="#F2AA1A" stroke-width="2.79"/>
<line x1="423.5" y1="647.2" x2="386.14" y2="607.18" stroke="#F3B435" stroke-width="0.99"/>
<line x1="379.64" y1="600.22" x2="372.6" y2="592.68" stroke="#C68B15" stroke-width="4.5"/>
<line x1="379.64" y1="600.22" x2="372.6" y2="592.68" stroke="#F2AA1A" stroke-width="2.79"/>
<line x1="379.64" y1="600.22" x2="372.6" y2="592.68" stroke="#F3B435" stroke-width="0.99"/>
<line x1="366.1" y1="585.72" x2="359.06" y2="578.18" stroke="#BB1417" stroke-width="4.5"/>
<line x1="366.1" y1="585.72" x2="359.06" y2="578.18" stroke="#E5191D" stroke-width="2.79"/>
<line x1="366.1" y1="585.72" x2="359.06" y2="578.18" stroke="#E83438" stroke-width="0.99"/>
<line x1="352.56" y1="571.22" x2="315.2" y2="531.2" stroke="#BB1417" stroke-width="4.5"/>
<line x1="352.56" y1="571.22" x2="315.2" y2="531.2" stroke="#E5191D" stroke-width="2.79"/>
<line x1="352.56" y1="571.22" x2="315.2" y2="531.2" stroke="#E83438" stroke-width="0.99"/>
<line x1="423.5" y1="647.2" x2="392.69" y2="627.54" stroke="#C68B15" stroke-width="4.5"/>
<line x1="423.5" y1="647.2" x2="392.69" y2="627.54" stroke="#F2AA1A" stroke-width="2.79"/>
<line x1="423.5" y1="647.2" x2="392.69" y2="627.54" stroke="#F3B435" stroke-width="0.99"/>
<line x1="387.33" y1="624.12" x2="381.53" y2="620.41" stroke="#C68B15" stroke-width="4.5"/>
<line x1="387.33" y1="624.12" x2="381.53" y2="620.41" stroke="#F2AA1A" stroke-width="2.79"/>
<line x1="387.33" y1="624.12" x2="381.53" y2="620.41" stroke="#F3B435" stroke-width="0.99"/>
<line x1="376.17" y1="616.99" x2="370.37" y2="613.29" stroke="#BB1417" stroke-width="4.5"/>
<line x1="376.17" y1="616.99" x2="370.37" y2="613.29" stroke="#E5191D" stroke-width="2.79"/>
<line x1="376.17" y1="616.99" x2="370.37" y2="613.29" stroke="#E83438" stroke-width="0.99"/>
<line x1="365.01" y1="609.87" x2="334.2" y2="590.2" stroke="#BB1417" stroke-width="4.5"/>
<line x1="365.01" y1="609.87" x2="334.2" y2="590.2" stroke="#E5191D" stroke-width="2.79"/>
<line x1="365.01" y1="609.87" x2="334.2" y2="590.2" stroke="#E83438" stroke-width="0.99"/>
<line x1="423.5" y1="647.2" x2="422.95" y2="584.69" stroke="#D19D0B" stroke-width="4.5"/>
<line x1="423.5" y1="647.2" x2="422.95" y2="584.69" stroke="#FFC00E" stroke-width="2.79"/>
<line x1="423.5" y1="647.2" x2="422.95" y2="584.69" stroke="#FFC72A" stroke-width="0.99"/>
<line x1="422.85" y1="573.81" x2="422.75" y2="562.04" stroke="#D19D0B" stroke-width="4.5"/>
<line x1="422.85" y1="573.81" x2="422.75" y2="562.04" stroke="#FFC00E" stroke-width="2.79"/>
<line x1="422.85" y1="573.81" x2="422.75" y2="562.04" stroke="#FFC72A" stroke-width="0.99"/>
<line x1="422.65" y1="551.16" x2="422.55" y2="539.39" stroke="#BB1417" stroke-width="4.5"/>
<line x1="422.65" y1="551.16" x2="422.55" y2="539.39" stroke="#E5191D" stroke-width="2.79"/>
<line x1="422.65" y1="551.16" x2="422.55" y2="539.39" stroke="#E83438" stroke-width="0.99"/>
<line x1="422.45" y1="528.51" x2="421.9" y2="466" stroke="#BB1417" stroke-width="4.5"/>
<line x1="422.45" y1="528.51" x2="421.9" y2="466" stroke="#E5191D" stroke-width="2.79"/>
<line x1="422.45" y1="528.51" x2="421.9" y2="466" stroke="#E83438" stroke-width="0.99"/>
<line x1="423.5" y1="647.2" x2="473.18" y2="638.61" stroke="#C99512" stroke-width="4.5"/>
<line x1="423.5" y1="647.2" x2="473.18" y2="638.61" stroke="#F6B616" stroke-width="2.79"/>
<line x1="423.5" y1="647.2" x2="473.18" y2="638.61" stroke="#F7BE31" stroke-width="0.99"/>
<line x1="481.82" y1="637.12" x2="491.18" y2="635.5" stroke="#C99512" stroke-width="4.5"/>
<line x1="481.82" y1="637.12" x2="491.18" y2="635.5" stroke="#F6B616" stroke-width="2.79"/>
<line x1="481.82" y1="637.12" x2="491.18" y2="635.5" stroke="#F7BE31" stroke-width="0.99"/>
<line x1="499.82" y1="634" x2="509.18" y2="632.38" stroke="#BB1417" stroke-width="4.5"/>
<line x1="499.82" y1="634" x2="509.18" y2="632.38" stroke="#E5191D" stroke-width="2.79"/>
<line x1="499.82" y1="634" x2="509.18" y2="632.38" stroke="#E83438" stroke-width="0.99"/>
<line x1="517.82" y1="630.89" x2="567.5" y2="622.3" stroke="#BB1417" stroke-width="4.5"/>
<line x1="517.82" y1="630.89" x2="567.5" y2="622.3" stroke="#E5191D" stroke-width="2.79"/>
<line x1="517.82" y1="630.89" x2="567.5" y2="622.3" stroke="#E83438" stroke-width="0.99"/>
<line x1="423.5" y1="647.2" x2="341.84" y2="688.98" stroke="#C99512" stroke-width="4.5"/>
<line x1="423.5" y1="647.2" x2="341.84" y2="688.98" stroke="#F6B616" stroke-width="2.79"/>
<line x1="423.5" y1="647.2" x2="341.84" y2="688.98" stroke="#F7BE31" stroke-width="0.99"/>
<line x1="342.56" y1="688.62" x2="260.9" y2="730.4" stroke="#BB1417" stroke-width="4.5"/>
<line x1="342.56" y1="688.62" x2="260.9" y2="730.4" stroke="#E5191D" stroke-width="2.79"/>
<line x1="342.56" y1="688.62" x2="260.9" y2="730.4" stroke="#E83438" stroke-width="0.99"/>
<line x1="423.5" y1="647.2" x2="411.35" y2="676.82" stroke="#C68B15" stroke-width="4.5"/>
<line x1="423.5" y1="647.2" x2="411.35" y2="676.82" stroke="#F2AA1A" stroke-width="2.79"/>
<line x1="423.5" y1="647.2" x2="411.35" y2="676.82" stroke="#F3B435" stroke-width="0.99"/>
<line x1="411.65" y1="676.08" x2="399.5" y2="705.7" stroke="#BB1417" stroke-width="4.5"/>
<line x1="411.65" y1="676.08" x2="399.5" y2="705.7" stroke="#E5191D" stroke-width="2.79"/>
<line x1="411.65" y1="676.08" x2="399.5" y2="705.7" stroke="#E83438" stroke-width="0.99"/>
<line x1="423.5" y1="647.2" x2="424.5" y2="691.5" stroke="#AD7613" stroke-width="4.5"/>
<line x1="423.5" y1="647.2" x2="424.5" y2="691.5" stroke="#D39018" stroke-width="2.79"/>
<line x1="423.5" y1="647.2" x2="424.5" y2="691.5" stroke="#D89D33" stroke-width="0.99"/>
<line x1="424.67" y1="699.2" x2="424.86" y2="707.55" stroke="#AD7613" stroke-width="4.5"/>
<line x1="424.67" y1="699.2" x2="424.86" y2="707.55" stroke="#D39018" stroke-width="2.79"/>
<line x1="424.67" y1="699.2" x2="424.86" y2="707.55" stroke="#D89D33" stroke-width="0.99"/>
<line x1="425.04" y1="715.25" x2="425.23" y2="723.6" stroke="#961115" stroke-width="4.5"/>
<line x1="425.04" y1="715.25" x2="425.23" y2="723.6" stroke="#B8151A" stroke-width="2.79"/>
<line x1="425.04" y1="715.25" x2="425.23" y2="723.6" stroke="#C03135" stroke-width="0.99"/>
<line x1="425.4" y1="731.3" x2="426.4" y2="775.6" stroke="#961115" stroke-width="4.5"/>
<line x1="425.4" y1="731.3" x2="426.4" y2="775.6" stroke="#B8151A" stroke-width="2.79"/>
<line x1="425.4" y1="731.3" x2="426.4" y2="775.6" stroke="#C03135" stroke-width="0.99"/>
<line x1="423.5" y1="647.2" x2="456.24" y2="700.26" stroke="#D19D0B" stroke-width="4.5"/>
<line x1="423.5" y1="647.2" x2="456.24" y2="700.26" stroke="#FFC00E" stroke-width="2.79"/>
<line x1="423.5" y1="647.2" x2="456.24" y2="700.26" stroke="#FFC72A" stroke-width="0.99"/>
<line x1="461.93" y1="709.49" x2="468.1" y2="719.49" stroke="#D19D0B" stroke-width="4.5"/>
<line x1="461.93" y1="709.49" x2="468.1" y2="719.49" stroke="#FFC00E" stroke-width="2.79"/>
<line x1="461.93" y1="709.49" x2="468.1" y2="719.49" stroke="#FFC72A" stroke-width="0.99"/>
<line x1="473.8" y1="728.71" x2="479.97" y2="738.71" stroke="#BB1417" stroke-width="4.5"/>
<line x1="473.8" y1="728.71" x2="479.97" y2="738.71" stroke="#E5191D" stroke-width="2.79"/>
<line x1="473.8" y1="728.71" x2="479.97" y2="738.71" stroke="#E83438" stroke-width="0.99"/>
<line x1="485.66" y1="747.94" x2="518.4" y2="801" stroke="#BB1417" stroke-width="4.5"/>
<line x1="485.66" y1="747.94" x2="518.4" y2="801" stroke="#E5191D" stroke-width="2.79"/>
<line x1="485.66" y1="747.94" x2="518.4" y2="801" stroke="#E83438" stroke-width="0.99"/>
<line x1="525.6" y1="360.6" x2="489.82" y2="396.96" stroke="#AD7613" stroke-width="4.5"/>
<line x1="525.6" y1="360.6" x2="489.82" y2="396.96" stroke="#D39018" stroke-width="2.79"/>
<line x1="525.6" y1="360.6" x2="489.82" y2="396.96" stroke="#D89D33" stroke-width="0.99"/>
<line x1="483.6" y1="403.29" x2="476.86" y2="410.14" stroke="#AD7613" stroke-width="4.5"/>
<line x1="483.6" y1="403.29" x2="476.86" y2="410.14" stroke="#D39018" stroke-width="2.79"/>
<line x1="483.6" y1="403.29" x2="476.86" y2="410.14" stroke="#D89D33" stroke-width="0.99"/>
<line x1="470.64" y1="416.46" x2="463.9" y2="423.31" stroke="#9D1215" stroke-width="4.5"/>
<line x1="470.64" y1="416.46" x2="463.9" y2="423.31" stroke="#C0161A" stroke-width="2.79"/>
<line x1="470.64" y1="416.46" x2="463.9" y2="423.31" stroke="#C73135" stroke-width="0.99"/>
<line x1="457.68" y1="429.64" x2="421.9" y2="466" stroke="#9D1215" stroke-width="4.5"/>
<line x1="457.68" y1="429.64" x2="421.9" y2="466" stroke="#C0161A" stroke-width="2.79"/>
<line x1="457.68" y1="429.64" x2="421.9" y2="466" stroke="#C73135" stroke-width="0.99"/>
<line x1="525.6" y1="360.6" x2="526.01" y2="423.56" stroke="#D19D0B" stroke-width="4.5"/>
<line x1="525.6" y1="360.6" x2="526.01" y2="423.56" stroke="#FFC00E" stroke-width="2.79"/>
<line x1="525.6" y1="360.6" x2="526.01" y2="423.56" stroke="#FFC72A" stroke-width="0.99"/>
<line x1="526.09" y1="434.51" x2="526.16" y2="446.38" stroke="#D19D0B" stroke-width="4.5"/>
<line x1="526.09" y1="434.51" x2="526.16" y2="446.38" stroke="#FFC00E" stroke-width="2.79"/>
<line x1="526.09" y1="434.51" x2="526.16" y2="446.38" stroke="#FFC72A" stroke-width="0.99"/>
<line x1="526.24" y1="457.33" x2="526.31" y2="469.19" stroke="#BB1417" stroke-width="4.5"/>
<line x1="526.24" y1="457.33" x2="526.31" y2="469.19" stroke="#E5191D" stroke-width="2.79"/>
<line x1="526.24" y1="457.33" x2="526.31" y2="469.19" stroke="#E83438" stroke-width="0.99"/>
<line x1="526.39" y1="480.14" x2="526.8" y2="543.1" stroke="#BB1417" stroke-width="4.5"/>
<line x1="526.39" y1="480.14" x2="526.8" y2="543.1" stroke="#E5191D" stroke-width="2.79"/>
<line x1="526.39" y1="480.14" x2="526.8" y2="543.1" stroke="#E83438" stroke-width="0.99"/>
<line x1="525.6" y1="360.6" x2="556.37" y2="380.82" stroke="#C68B15" stroke-width="4.5"/>
<line x1="525.6" y1="360.6" x2="556.37" y2="380.82" stroke="#F2AA1A" stroke-width="2.79"/>
<line x1="525.6" y1="360.6" x2="556.37" y2="380.82" stroke="#F3B435" stroke-width="0.99"/>
<line x1="561.73" y1="384.33" x2="567.52" y2="388.14" stroke="#C68B15" stroke-width="4.5"/>
<line x1="561.73" y1="384.33" x2="567.52" y2="388.14" stroke="#F2AA1A" stroke-width="2.79"/>
<line x1="561.73" y1="384.33" x2="567.52" y2="388.14" stroke="#F3B435" stroke-width="0.99"/>
<line x1="572.88" y1="391.66" x2="578.67" y2="395.47" stroke="#BB1417" stroke-width="4.5"/>
<line x1="572.88" y1="391.66" x2="578.67" y2="395.47" stroke="#E5191D" stroke-width="2.79"/>
<line x1="572.88" y1="391.66" x2="578.67" y2="395.47" stroke="#E83438" stroke-width="0.99"/>
<line x1="584.03" y1="398.98" x2="614.8" y2="419.2" stroke="#BB1417" stroke-width="4.5"/>
<line x1="584.03" y1="398.98" x2="614.8" y2="419.2" stroke="#E5191D" stroke-width="2.79"/>
<line x1="584.03" y1="398.98" x2="614.8" y2="419.2" stroke="#E83438" stroke-width="0.99"/>
<ellipse cx="0" cy="0" rx="9.5" ry="10.6" transform="translate(705.3 24.9) rotate(-15)" fill="url(#gCe)"/>
<ellipse cx="0" cy="0" rx="13.8" ry="11" transform="translate(707.6 152.4) rotate(-24)" fill="url(#gO)"/>
<ellipse cx="0" cy="0" rx="14" ry="12" transform="translate(799.7 177) rotate(-10)" fill="url(#gO)"/>
<ellipse cx="0" cy="0" rx="12" ry="12.8" transform="translate(761 224.5) rotate(0)" fill="url(#gC)"/>
<ellipse cx="0" cy="0" rx="11.5" ry="14" transform="translate(811.8 241) rotate(-15)" fill="url(#gC)"/>
<ellipse cx="0" cy="0" rx="18" ry="13" transform="translate(721.4 263.7) rotate(-40)" fill="url(#gCl)"/>
<ellipse cx="0" cy="0" rx="12.4" ry="14.8" transform="translate(775.2 289.1) rotate(-10)" fill="url(#gC)"/>
<ellipse cx="0" cy="0" rx="12.5" ry="15" transform="translate(865.6 324.5) rotate(-10)" fill="url(#gC)"/>
<ellipse cx="0" cy="0" rx="17.5" ry="13" transform="translate(919.7 350) rotate(-40)" fill="url(#gCl)"/>
<ellipse cx="0" cy="0" rx="11.2" ry="14.2" transform="translate(828.4 371.7) rotate(-20)" fill="url(#gC)"/>
<ellipse cx="0" cy="0" rx="12.5" ry="12.8" transform="translate(880.1 389.6) rotate(-10)" fill="url(#gC)"/>
<ellipse cx="0" cy="0" rx="13.6" ry="11.4" transform="translate(840.8 436.7) rotate(-5)" fill="url(#gO)"/>
<ellipse cx="0" cy="0" rx="13.8" ry="11.2" transform="translate(933.3 461) rotate(-18)" fill="url(#gO)"/>
<ellipse cx="0" cy="0" rx="9.3" ry="9.3" transform="translate(935.7 589.1) rotate(0)" fill="url(#gCe)"/>
<ellipse cx="0" cy="0" rx="14.8" ry="15.4" transform="translate(960 531.4) rotate(0)" fill="url(#gO)"/>
<ellipse cx="0" cy="0" rx="12.3" ry="14.8" transform="translate(1098.4 506.6) rotate(0)" fill="url(#gO)"/>
<ellipse cx="0" cy="0" rx="12.7" ry="12.5" transform="translate(792 614.2) rotate(0)" fill="url(#gO)"/>
<ellipse cx="0" cy="0" rx="14.2" ry="11.9" transform="translate(1025.2 646) rotate(-5)" fill="url(#gO)"/>
<ellipse cx="0" cy="0" rx="11.3" ry="12.3" transform="translate(1044 705.4) rotate(0)" fill="url(#gO)"/>
<ellipse cx="0" cy="0" rx="10.5" ry="13.3" transform="translate(936.8 771) rotate(0)" fill="url(#gO)"/>
<ellipse cx="0" cy="0" rx="10.8" ry="13.9" transform="translate(831.9 693.8) rotate(0)" fill="url(#gO)"/>
<ellipse cx="0" cy="0" rx="9" ry="9.3" transform="translate(833.5 874.8) rotate(0)" fill="url(#gCe)"/>
<ellipse cx="0" cy="0" rx="14.6" ry="11.6" transform="translate(744.3 816.9) rotate(-15)" fill="url(#gO)"/>
<ellipse cx="0" cy="0" rx="12.7" ry="12.4" transform="translate(977.3 850.1) rotate(0)" fill="url(#gO)"/>
<ellipse cx="0" cy="0" rx="11" ry="13" transform="translate(770.4 732.2) rotate(-15)" fill="url(#gC)"/>
<ellipse cx="0" cy="0" rx="10.8" ry="12.4" transform="translate(724.5 671.5) rotate(-5)" fill="url(#gC)"/>
<ellipse cx="0" cy="0" rx="11.3" ry="11.8" transform="translate(676.9 717.5) rotate(0)" fill="url(#gC)"/>
<ellipse cx="0" cy="0" rx="10.8" ry="12.6" transform="translate(631.7 664) rotate(-5)" fill="url(#gC)"/>
<ellipse cx="0" cy="0" rx="10.8" ry="12.6" transform="translate(633.2 565.2) rotate(0)" fill="url(#gC)"/>
<ellipse cx="0" cy="0" rx="10.5" ry="12.8" transform="translate(727.3 572) rotate(0)" fill="url(#gC)"/>
<ellipse cx="0" cy="0" rx="11.7" ry="11.4" transform="translate(681.9 519.1) rotate(0)" fill="url(#gC)"/>
<ellipse cx="0" cy="0" rx="11" ry="12.5" transform="translate(589.3 504.5) rotate(-10)" fill="url(#gC)"/>
<ellipse cx="0" cy="0" rx="11.2" ry="13.4" transform="translate(526.8 543.1) rotate(15)" fill="url(#gO)"/>
<ellipse cx="0" cy="0" rx="14.3" ry="11.6" transform="translate(614.8 419.2) rotate(-12)" fill="url(#gO)"/>
<ellipse cx="0" cy="0" rx="10.5" ry="11.5" transform="translate(1028.1 780.3) rotate(-25)" fill="url(#gC)"/>
<ellipse cx="0" cy="0" rx="11" ry="12.6" transform="translate(1073.8 785) rotate(-10)" fill="url(#gC)"/>
<ellipse cx="0" cy="0" rx="13.9" ry="11.9" transform="translate(1140.7 716.4) rotate(0)" fill="url(#gC)"/>
<ellipse cx="0" cy="0" rx="13.9" ry="12.2" transform="translate(1183.1 719.8) rotate(-10)" fill="url(#gC)"/>
<ellipse cx="0" cy="0" rx="11" ry="12.5" transform="translate(1159.4 792) rotate(-10)" fill="url(#gC)"/>
<ellipse cx="0" cy="0" rx="11" ry="12.5" transform="translate(1205.8 798) rotate(-10)" fill="url(#gC)"/>
<ellipse cx="0" cy="0" rx="14.1" ry="12.4" transform="translate(1049.3 858.1) rotate(0)" fill="url(#gC)"/>
<ellipse cx="0" cy="0" rx="14.1" ry="12" transform="translate(1092.3 861.6) rotate(-5)" fill="url(#gC)"/>
<ellipse cx="0" cy="0" rx="13.4" ry="12.7" transform="translate(1256 728) rotate(0)" fill="url(#gO)"/>
<ellipse cx="0" cy="0" rx="11.7" ry="11.9" transform="translate(1189 872.3) rotate(0)" fill="url(#gO)"/>
<ellipse cx="0" cy="0" rx="9.6" ry="11" transform="translate(1400 702.6) rotate(-10)" fill="url(#gCe)"/>
<ellipse cx="0" cy="0" rx="9.9" ry="10.9" transform="translate(1297.4 989.6) rotate(-10)" fill="url(#gCe)"/>
<ellipse cx="0" cy="0" rx="9.3" ry="9.3" transform="translate(423.5 647.2) rotate(0)" fill="url(#gCe)"/>
<ellipse cx="0" cy="0" rx="9.5" ry="9.8" transform="translate(525.6 360.6) rotate(0)" fill="url(#gCe)"/>
<ellipse cx="0" cy="0" rx="11.6" ry="12.2" transform="translate(315.2 531.2) rotate(0)" fill="url(#gO)"/>
<ellipse cx="0" cy="0" rx="14.5" ry="12.5" transform="translate(334.2 590.2) rotate(-5)" fill="url(#gO)"/>
<ellipse cx="0" cy="0" rx="11" ry="14" transform="translate(421.9 466) rotate(0)" fill="url(#gO)"/>
<ellipse cx="0" cy="0" rx="13" ry="12" transform="translate(567.5 622.3) rotate(-5)" fill="url(#gO)"/>
<ellipse cx="0" cy="0" rx="12.3" ry="14.8" transform="translate(260.9 730.4) rotate(-15)" fill="url(#gO)"/>
<ellipse cx="0" cy="0" rx="14.7" ry="15" transform="translate(399.5 705.7) rotate(0)" fill="url(#gO)"/>
<ellipse cx="0" cy="0" rx="14" ry="12.4" transform="translate(426.4 775.6) rotate(-25)" fill="url(#gO)"/>
<ellipse cx="0" cy="0" rx="14.1" ry="12.6" transform="translate(518.4 801) rotate(0)" fill="url(#gO)"/>
<line x1="934.5" y1="525.05" x2="934.51" y2="525.45" stroke="#831013" stroke-width="4.5"/>
<line x1="934.5" y1="525.05" x2="934.51" y2="525.45" stroke="#A01418" stroke-width="2.79"/>
<line x1="934.5" y1="525.05" x2="934.51" y2="525.45" stroke="#AB3033" stroke-width="0.99"/>
<line x1="934.5" y1="525.05" x2="935.7" y2="589.1" stroke="#845B18" stroke-width="4.5"/>
<line x1="934.5" y1="525.05" x2="935.7" y2="589.1" stroke="#A2701E" stroke-width="2.79"/>
<line x1="934.5" y1="525.05" x2="935.7" y2="589.1" stroke="#AD8139" stroke-width="0.99"/>
<line x1="947.85" y1="560.25" x2="948.01" y2="559.88" stroke="#C68B15" stroke-width="4.5"/>
<line x1="947.85" y1="560.25" x2="948.01" y2="559.88" stroke="#F2AA1A" stroke-width="2.79"/>
<line x1="947.85" y1="560.25" x2="948.01" y2="559.88" stroke="#F3B435" stroke-width="0.99"/>
<line x1="947.85" y1="560.25" x2="960" y2="531.4" stroke="#BB1417" stroke-width="4.5"/>
<line x1="947.85" y1="560.25" x2="960" y2="531.4" stroke="#E5191D" stroke-width="2.79"/>
<line x1="947.85" y1="560.25" x2="960" y2="531.4" stroke="#E83438" stroke-width="0.99"/>
<line x1="392.5" y1="708.2" x2="347.4" y2="729.5" stroke="#8E8E8E" stroke-width="3.3"/>
<circle cx="129.5" cy="102.3" r="16.2" fill="#F5A81E" stroke="#c9b9a0" stroke-opacity="0.5" stroke-width="0.8"/>
<circle cx="129.5" cy="159.2" r="16.2" fill="#EC1F25" stroke="#c9b9a0" stroke-opacity="0.5" stroke-width="0.8"/>
<circle cx="129.5" cy="216" r="16.2" fill="#8F90C6" stroke="#c9b9a0" stroke-opacity="0.5" stroke-width="0.8"/>
<circle cx="129.5" cy="273.2" r="16.2" fill="#969696" stroke="#c9b9a0" stroke-opacity="0.5" stroke-width="0.8"/>
<circle cx="129.5" cy="332.5" r="16.2" fill="#6BBE45" stroke="#c9b9a0" stroke-opacity="0.5" stroke-width="0.8"/>
<g class="lb">
<text transform="matrix(1.07 0 0 1.08 668.66 175.1)" font-size="40" stroke="#1a1a1a" stroke-width="0.45">2</text>
<text transform="matrix(0.94 0 0 1.07 721.63 236)" font-size="40" stroke="#1a1a1a" stroke-width="0.45">3</text>
<text transform="matrix(1.11 0 0 1.07 756.17 339.9)" font-size="40" stroke="#1a1a1a" stroke-width="0.45">2</text>
<text transform="matrix(0.83 0 0 1.08 798 404)" font-size="40" stroke="#1a1a1a" stroke-width="0.45">1</text>
<text transform="matrix(1.01 0 0 1.07 903.38 405.1)" font-size="40" stroke="#1a1a1a" stroke-width="0.45">3A</text>
<text transform="matrix(0.83 0 0 1.07 810.22 482.2)" font-size="40" stroke="#1a1a1a" stroke-width="0.45">1</text>
<text transform="matrix(1.03 0 0 1.08 951.55 465)" font-size="40" stroke="#1a1a1a" stroke-width="0.45">2A</text>
<text transform="matrix(1.04 0 0 1.03 969.39 513.3)" font-size="40" stroke="#1a1a1a" stroke-width="0.45">7</text>
<text transform="matrix(0.93 0 0 1.02 1114.74 502.6)" font-size="40" stroke="#1a1a1a" stroke-width="0.45">8</text>
<text transform="matrix(1.02 0 0 1.07 710.84 542.9)" font-size="40" stroke="#1a1a1a" stroke-width="0.45">11D</text>
<text transform="matrix(1.03 0 0 1.1 769.77 591.3)" font-size="40" stroke="#1a1a1a" stroke-width="0.45">4B</text>
<text transform="matrix(0.85 0 0 1.07 892.76 586.2)" font-size="40" stroke="#1a1a1a" stroke-width="0.45">1</text>
<text transform="matrix(1.03 0 0 1.1 1008.73 623.3)" font-size="40" stroke="#1a1a1a" stroke-width="0.45">6B</text>
<text transform="matrix(0.94 0 0 1.1 796.72 695.6)" font-size="40" stroke="#1a1a1a" stroke-width="0.45">5</text>
<text transform="matrix(0.95 0 0 1.07 1002.51 724.9)" font-size="40" stroke="#1a1a1a" stroke-width="0.45">3</text>
<text transform="matrix(1.02 0 0 1.11 1102.76 713.9)" font-size="40" stroke="#1a1a1a" stroke-width="0.45">6</text>
<text transform="matrix(1.11 0 0 1.08 1195.86 730)" font-size="40" stroke="#1a1a1a" stroke-width="0.45">7</text>
<text transform="matrix(0.9 0 0 1.07 1067.8 761.3)" font-size="40" stroke="#1a1a1a" stroke-width="0.45">5</text>
<text transform="matrix(1.04 0 0 1.08 991.96 782.5)" font-size="40" stroke="#1a1a1a" stroke-width="0.45">4</text>
<text transform="matrix(0.87 0 0 1.07 610.7 721.9)" font-size="40" stroke="#1a1a1a" stroke-width="0.45">11</text>
<text transform="matrix(1.05 0 0 1.15 715.15 725.7)" font-size="40" stroke="#1a1a1a" stroke-width="0.45">9</text>
<text transform="matrix(0.94 0 0 1.08 654.99 767)" font-size="40" stroke="#1a1a1a" stroke-width="0.45">10</text>
<text transform="matrix(0.89 0 0 1.07 734.81 761.3)" font-size="40" stroke="#1a1a1a" stroke-width="0.45">8</text>
<text transform="matrix(1.03 0 0 0.99 874.83 761.5)" font-size="40" stroke="#1a1a1a" stroke-width="0.45">5B</text>
<text transform="matrix(1.08 0 0 1.06 701.25 831.8)" font-size="40" stroke="#1a1a1a" stroke-width="0.45">6</text>
<text transform="matrix(1.04 0 0 1.06 944.76 894.8)" font-size="40" stroke="#1a1a1a" stroke-width="0.45">4</text>
<text transform="matrix(1.13 0 0 1.09 1023.32 913.2)" font-size="40" stroke="#1a1a1a" stroke-width="0.45">7C</text>
<text transform="matrix(1.11 0 0 1.08 162.18 116.1)" font-size="40" stroke="#1a1a1a" stroke-width="0.45">Ce</text>
<text transform="matrix(1.11 0 0 1.08 162.18 173)" font-size="40" stroke="#1a1a1a" stroke-width="0.45">O</text>
<text transform="matrix(1.17 0 0 1.08 162.33 231.2)" font-size="40" stroke="#1a1a1a" stroke-width="0.45">N</text>
<text transform="matrix(1.22 0 0 1.1 161.06 289.2)" font-size="40" stroke="#1a1a1a" stroke-width="0.45">C</text>
<text transform="matrix(1.13 0 0 1.02 161.25 347.1)" font-size="40" stroke="#1a1a1a" stroke-width="0.45">Cl</text>
</g>
</svg></body></html>
